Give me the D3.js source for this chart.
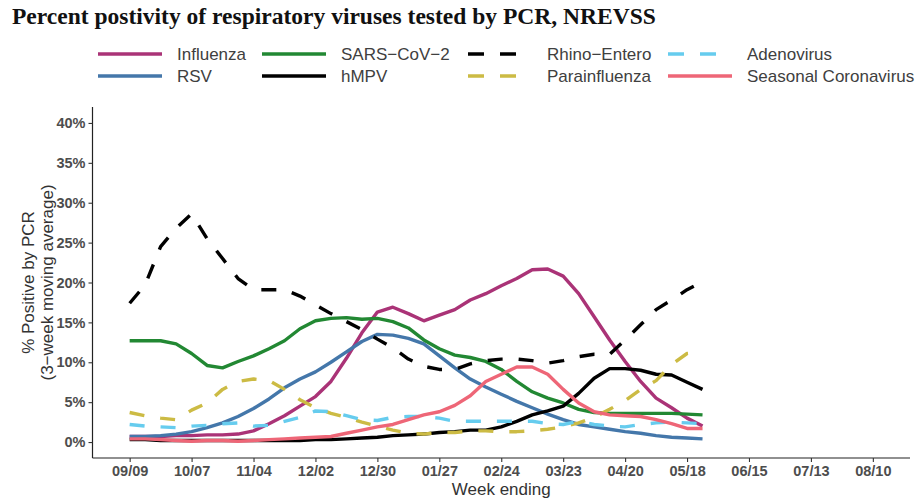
<!DOCTYPE html>
<html>
<head>
<meta charset="utf-8">
<script src="https://cdn.jsdelivr.net/npm/d3@7"></script>
<style>
  html, body { margin: 0; padding: 0; background: #fff; }
  svg { display: block; }
</style>
</head>
<body>
<svg id="chart" width="922" height="502"></svg>
<script>
// ---------------- DATA ----------------
const weeks = ["2023-09-09","2023-09-16","2023-09-23","2023-09-30","2023-10-07","2023-10-14","2023-10-21","2023-10-28",
  "2023-11-04","2023-11-11","2023-11-18","2023-11-25","2023-12-02","2023-12-09","2023-12-16","2023-12-23",
  "2023-12-30","2024-01-06","2024-01-13","2024-01-20","2024-01-27","2024-02-03","2024-02-10","2024-02-17",
  "2024-02-24","2024-03-02","2024-03-09","2024-03-16","2024-03-23","2024-03-30","2024-04-06","2024-04-13",
  "2024-04-20","2024-04-27","2024-05-04","2024-05-11","2024-05-18","2024-05-25"];

const influenza = [0.7,0.7,0.7,0.8,0.8,0.9,0.9,1.0,1.4,2.3,3.3,4.5,5.7,7.6,10.5,13.7,16.3,16.9,16.1,15.2,15.9,16.6,17.8,18.6,19.6,20.5,21.6,21.7,20.8,18.6,15.7,12.8,10.1,7.6,5.5,4.3,3.0,2.0];
const rsv = [0.7,0.7,0.8,1.0,1.3,1.8,2.4,3.2,4.2,5.4,6.8,7.9,8.8,10.0,11.3,12.6,13.5,13.4,13.0,12.3,10.8,9.3,7.9,6.9,6.0,5.1,4.3,3.5,2.8,2.2,1.9,1.6,1.3,1.1,0.8,0.6,0.5,0.4];
const sarsCov2 = [12.7,12.7,12.7,12.3,11.1,9.6,9.3,10.1,10.8,11.7,12.7,14.2,15.2,15.5,15.6,15.4,15.5,15.1,14.3,12.8,11.7,10.9,10.6,10.1,9.1,7.6,6.3,5.5,4.9,4.1,3.7,3.6,3.6,3.6,3.6,3.6,3.5,3.4];
const hmpv = [0.3,0.3,0.2,0.2,0.2,0.2,0.2,0.2,0.2,0.2,0.2,0.2,0.3,0.3,0.4,0.5,0.6,0.8,0.9,1.0,1.2,1.3,1.5,1.5,1.9,2.6,3.4,3.9,4.5,6.1,8.0,9.2,9.2,9.0,8.5,8.4,7.5,6.6];
const rhinoEntero = [17.4,19.7,24.5,26.8,28.6,25.5,23.0,20.5,19.1,19.1,19.1,18.3,17.2,16.1,15.1,14.1,12.9,11.8,10.4,9.5,9.1,9.1,9.8,10.2,10.4,10.4,10.2,9.9,10.2,10.7,11.0,11.0,12.8,14.7,16.6,17.8,19.1,20.1];
const parainfluenza = [3.7,3.3,3.0,2.8,4.0,4.9,6.6,7.6,7.9,7.7,6.6,5.3,4.3,3.6,3.1,2.5,2.0,1.5,1.1,1.0,1.2,1.2,1.4,1.4,1.3,1.3,1.4,1.6,1.9,2.4,3.1,4.1,5.2,6.6,7.7,9.7,11.1,11.3];
const adenovirus = [2.2,2.0,1.9,1.8,2.0,2.1,2.3,2.4,2.0,2.1,2.6,3.1,3.9,3.8,3.3,2.8,2.7,3.1,3.2,3.2,3.0,2.6,2.6,2.6,2.6,2.6,2.6,2.3,2.2,2.6,2.2,2.0,1.9,2.2,2.4,2.5,2.4,2.3];
const seasonalCoronavirus = [0.4,0.4,0.3,0.2,0.1,0.2,0.2,0.1,0.2,0.3,0.4,0.5,0.6,0.7,1.1,1.5,1.9,2.2,2.8,3.4,3.8,4.6,5.8,7.6,8.5,9.4,9.4,8.5,6.6,4.9,3.8,3.4,3.3,3.2,2.8,2.3,1.7,1.7];

const tickDates = ["2023-09-09","2023-10-07","2023-11-04","2023-12-02","2023-12-30","2024-01-27","2024-02-24",
  "2024-03-23","2024-04-20","2024-05-18","2024-06-15","2024-07-13","2024-08-10"];
const yTicks = [0,5,10,15,20,25,30,35,40];

const seriesNames = ["Influenza","RSV","SARS\u2212CoV\u22122","hMPV","Rhino\u2212Entero","Parainfluenza","Adenovirus","Seasonal Coronavirus"];
const seriesValues = [influenza, rsv, sarsCov2, hmpv, rhinoEntero, parainfluenza, adenovirus, seasonalCoronavirus];
const seriesColors = ["#AA3377","#4477AA","#228833","#000000","#000000","#CCBB44","#66CCEE","#EE6677"];
const seriesDashed = [false,false,false,false,true,true,true,false];

const titleText = "Percent postivity of respiratory viruses tested by PCR, NREVSS";
const yTitle1 = "% Positive by PCR";
const yTitle2 = "(3\u2212week moving average)";
const xTitle = "Week ending";

// ---------------- LAYOUT ----------------
const svg = d3.select("#chart");
const M = { left: 92.5, right: 910, top: 107, bottom: 458 };
const parse = d3.utcParse("%Y-%m-%d");
const fmt = d3.utcFormat("%m/%d");
const lineW = 3.4;
const dash = "15,16";
const keyDash = "16,16";

const xMin = parse(tickDates[0]), xMax = parse(tickDates[tickDates.length - 1]);
const span = xMax - xMin;
const x = d3.scaleUtc()
  .domain([new Date(+xMin - 0.05 * span), new Date(+xMax + 0.05 * span)])
  .range([M.left, M.right]);
const y = d3.scaleLinear().domain([-2, 42]).range([M.bottom, M.top]);

// Title
const title = svg.append("text")
  .attr("x", 12).attr("y", 24)
  .attr("font-family", "'Liberation Serif', 'DejaVu Serif', serif")
  .attr("font-weight", "bold")
  .attr("font-size", 20)
  .attr("fill", "#111")
  .text(titleText);
const tw = title.node().getComputedTextLength();
title.attr("font-size", 20 * 644 / tw);

// Legend
const legendCols = [98, 262, 468, 668];
const legendRows = [54, 76];
const leg = svg.append("g");
seriesNames.forEach((name, i) => {
  const col = Math.floor(i / 2), row = i % 2;
  const lx = legendCols[col], ly = legendRows[row];
  leg.append("line")
    .attr("x1", lx).attr("x2", lx + 64)
    .attr("y1", ly).attr("y2", ly)
    .attr("stroke", seriesColors[i])
    .attr("stroke-width", lineW + 0.3)
    .attr("stroke-dasharray", seriesDashed[i] ? keyDash : null);
  leg.append("text")
    .attr("x", lx + 79).attr("y", ly + 6)
    .attr("font-family", "'Liberation Sans', Arial, sans-serif")
    .attr("font-size", 17)
    .attr("fill", "#404040")
    .text(name);
});

// Axes
const xAxis = d3.axisBottom(x)
  .tickValues(tickDates.map(parse))
  .tickFormat(fmt)
  .tickSize(4).tickPadding(4);
const gx = svg.append("g").attr("transform", `translate(0,${M.bottom})`).call(xAxis);
gx.select(".domain").attr("stroke", "#222").attr("stroke-width", 1.2)
  .attr("d", `M${M.left},0H${M.right}`);
gx.selectAll(".tick line").attr("stroke", "#333").attr("stroke-width", 1.1);
gx.selectAll(".tick text")
  .attr("font-family", "'Liberation Sans', Arial, sans-serif")
  .attr("font-size", 14.5).attr("font-weight", "bold").attr("fill", "#4d4d4d");

const yAxis = d3.axisLeft(y)
  .tickValues(yTicks)
  .tickFormat(d => d + "%")
  .tickSize(4).tickPadding(3);
const gy = svg.append("g").attr("transform", `translate(${M.left},0)`).call(yAxis);
gy.select(".domain").attr("stroke", "#222").attr("stroke-width", 1.2)
  .attr("d", `M0,${M.top}V${M.bottom}`);
gy.selectAll(".tick line").attr("stroke", "#333").attr("stroke-width", 1.1);
gy.selectAll(".tick text")
  .attr("font-family", "'Liberation Sans', Arial, sans-serif")
  .attr("font-size", 14.5).attr("font-weight", "bold").attr("fill", "#4d4d4d");

// Axis titles
svg.append("text")
  .attr("x", (M.left + M.right) / 2).attr("y", 495)
  .attr("text-anchor", "middle")
  .attr("font-family", "'Liberation Sans', Arial, sans-serif")
  .attr("font-size", 17).attr("fill", "#333")
  .text(xTitle);
const yt = svg.append("text")
  .attr("transform", `translate(0,${(M.top + M.bottom) / 2}) rotate(-90)`)
  .attr("text-anchor", "middle")
  .attr("font-family", "'Liberation Sans', Arial, sans-serif")
  .attr("font-size", 17).attr("fill", "#333");
yt.append("tspan").attr("x", 0).attr("y", 34).text(yTitle1);
yt.append("tspan").attr("x", 0).attr("y", 53).text(yTitle2);

// Lines
const dates = weeks.map(parse);
const line = d3.line().x((d, i) => x(dates[i])).y(d => y(d));
const gl = svg.append("g");
seriesValues.forEach((vals, i) => {
  gl.append("path")
    .datum(vals)
    .attr("d", line)
    .attr("fill", "none")
    .attr("stroke", seriesColors[i])
    .attr("stroke-width", lineW)
    .attr("stroke-linejoin", "round")
    .attr("stroke-linecap", "butt")
    .attr("stroke-dasharray", seriesDashed[i] ? dash : null);
});
</script>
</body>
</html>
